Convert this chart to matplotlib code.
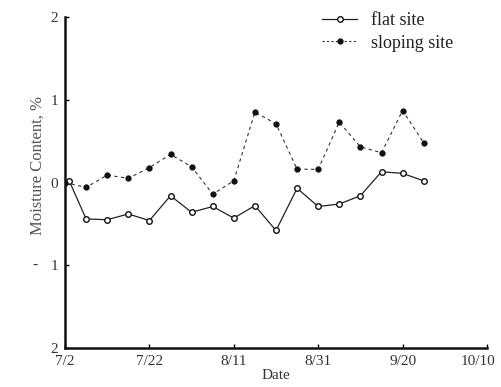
import matplotlib
matplotlib.use("Agg")
import matplotlib.pyplot as plt
import matplotlib.transforms as mtransforms
from matplotlib.lines import Line2D

# ---- data (days after 7/2) ----
flat_days = [1, 5, 10, 15, 20, 25, 30, 35, 40, 45, 50, 55, 60, 65, 70, 75, 80, 85]
flat_vals = [0.02, -0.44, -0.45, -0.38, -0.46, -0.16, -0.36, -0.29, -0.43, -0.28,
             -0.58, -0.07, -0.29, -0.26, -0.16, 0.13, 0.11, 0.02]
slope_days = [0, 5, 10, 15, 20, 25, 30, 35, 40, 45, 50, 55, 60, 65, 70, 75, 80, 85]
slope_vals = [0.0, -0.06, 0.09, 0.05, 0.18, 0.34, 0.19, -0.14, 0.02, 0.85,
              0.71, 0.16, 0.16, 0.73, 0.43, 0.36, 0.87, 0.48]
x_tick_pos = [0, 20, 40, 60, 80, 100]
x_tick_labels = ["7/2", "7/22", "8/11", "8/31", "9/20", "10/10"]
y_tick_pos = [-2, -1, 0, 1, 2]
y_tick_labels = ["2", "1", "0", "1", "2"]

plt.rcParams['font.family'] = ['Liberation Serif', 'DejaVu Serif']

fig = plt.figure(figsize=(5.02, 3.87), dpi=100)
ax = fig.add_axes([65/502, 39/387, 422/502, 331/387])

ax.plot(flat_days, flat_vals, '-', color='#222222', lw=0.9,
        marker='o', ms=4, mfc='white', mec='#111111', mew=1.0)
ax.plot(slope_days, slope_vals, '--', color='#333333', lw=0.8, dashes=(3, 3),
        marker='o', ms=3.5, mfc='#111111', mec='#111111')

ax.set_xlim(0, 100)
ax.set_ylim(-2, 2)
ax.set_xticks(x_tick_pos)
ax.set_xticklabels(x_tick_labels, fontsize=11, color='#333333')
ax.set_yticks(y_tick_pos)
ax.set_yticklabels(y_tick_labels, fontsize=11, color='#333333')
ax.tick_params(direction='in', length=3, width=1, pad=5)
for s in ['top', 'right']:
    ax.spines[s].set_visible(False)
for s in ['left', 'bottom']:
    ax.spines[s].set_linewidth(1.8)
    ax.spines[s].set_color('#111111')

# nudge last x label left so it stays inside the figure
last = ax.get_xticklabels()[-1]
last.set_transform(last.get_transform() +
                   mtransforms.ScaledTranslation(-9/100, 0, fig.dpi_scale_trans))

ax.set_xlabel("Date", fontsize=11, color='#333333', labelpad=1)
ax.set_ylabel("Moisture Content, %", fontsize=12, color='#555555')
ax.yaxis.set_label_coords(-0.045, 0.55)
fig.text(35/502, 1 - 265/387, "-", fontsize=11, color='#333333', ha='center', va='center')

handles = [
    Line2D([], [], ls='-', color='#222222', lw=0.9, marker='o', ms=4,
           mfc='white', mec='#111111', markevery=[0, 1]),
    Line2D([], [], ls='--', color='#333333', lw=0.8, dashes=(2, 2), marker='o', ms=3.5,
           mfc='#111111', mec='#111111', markevery=[1]),
]
leg = ax.legend(handles, ["flat site", "sloping site"], loc='upper left',
                bbox_to_anchor=(0.588, 1.042), frameon=False, fontsize=13,
                handlelength=1.95, labelspacing=0.3, handletextpad=0.75,
                borderpad=0)
for t in leg.get_texts():
    t.set_color('#222222')

fig.savefig("out.png", dpi=100)
